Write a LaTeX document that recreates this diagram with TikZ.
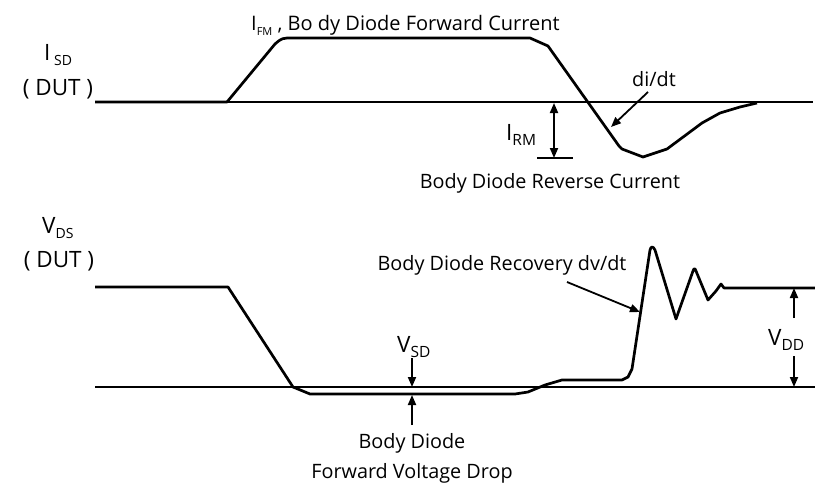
\documentclass[tikz,border=0pt]{standalone}
\usepackage{fontspec}
\setmainfont{Open Sans}
\usetikzlibrary{arrows.meta}
\newcommand{\fs}[1]{\fontsize{#1}{#1}\selectfont}
\newcommand{\lsub}[2]{\raisebox{-5pt}{\fs{#1}#2}}
\begin{document}
\begin{tikzpicture}[x=1pt,y=-1pt,
  wave/.style={line width=2.7pt,line join=round},
  axis/.style={line width=1.4pt},
  tip/.style={line width=1.8pt},
  arr/.style={line width=1.8pt,-{Triangle[length=10pt,width=8pt]}},
  txt/.style={font=\fs{19.8},inner sep=0pt},
  big/.style={font=\fs{22.5},inner sep=0pt}]
\useasboundingbox (0,0) rectangle (815,485);

% baselines
\draw[axis] (95,102) -- (813,102);
\draw[axis] (95,387) -- (815,387);

% top waveform (I_SD)
\draw[wave] (95,102) -- (227,102) -- (275,44) .. controls (282,38) .. (293,38)
  -- (530,38) -- (548,46) -- (619,146) -- (622,149) -- (643,157) -- (667,149)
  -- (702,123) -- (720,113) -- (740,107) -- (757,103);

% bottom waveform (V_DS)
\draw[wave] (95,287) -- (228,287) -- (293,387) -- (310,394) -- (515,394)
  -- (528,392) -- (545,385) -- (562,380) -- (622,380) -- (628,377) -- (632,369)
  -- (650,250) .. controls (651,246) and (653,246) .. (655,250) -- (676,319)
  -- (693,271) .. controls (694,268) and (695,268) .. (696,271) -- (708,300)
  -- (716,291) -- (721,284) -- (724,288) -- (815,288);

% left labels
\node[big,anchor=base west] (isd) at (44,60) {I\,\lsub{14}{SD}};
\node[big,anchor=base] (dut1) at (58,95) {( DUT )};
\node[big,anchor=base west] (vds) at (42,233) {V\lsub{14}{DS}};
\node[big,anchor=base] (dut2) at (59,267) {( DUT )};

% top labels
\node[txt,anchor=base west] (ifm) at (251,30) {\fs{20}I\lsub{11}{FM} , Bo dy Diode Forward Current};
\node[txt] (didt) at (654,79) {di/dt};
\coordinate (didtA) at (648,92);
\coordinate (didtB) at (611,127);
\draw[arr] (didtA) -- (didtB);

\node[big,anchor=base west] (irm) at (506,140) {I\lsub{15.5}{RM}};
\coordinate (irmT) at (554,103);
\coordinate (irmB) at (554,158);
\draw[tip,{Triangle[length=10pt,width=8pt]}-{Triangle[length=10pt,width=8pt]}] (irmT) -- (irmB);
\coordinate (tickL) at (537,158);
\coordinate (tickR) at (573,158);
\draw[tip] (tickL) -- (tickR);
\node[txt] (rev) at (550,183) {Body Diode Reverse Current};

% bottom labels
\node[txt] (rec) at (502,265) {Body Diode Recovery dv/dt};
\coordinate (recA) at (567,282);
\coordinate (recB) at (640,312);
\draw[arr] (recA) -- (recB);

\node[big,anchor=base west] (vsd) at (397,352) {V\lsub{15.5}{SD}};
\coordinate (vsdA) at (412,358);
\coordinate (vsdB) at (412,387);
\coordinate (vsdC) at (412,425);
\coordinate (vsdD) at (412,395);
\draw[arr] (vsdA) -- (vsdB);
\draw[arr] (vsdC) -- (vsdD);
\node[txt] (fwd1) at (412,443) {Body Diode};
\node[txt] (fwd2) at (412,473) {Forward Voltage Drop};

\node[big,anchor=base west] (vdd) at (768,345) {V\lsub{15.5}{DD}};
\coordinate (vddA) at (794,318);
\coordinate (vddB) at (794,288);
\coordinate (vddC) at (794,356);
\coordinate (vddD) at (794,387);
\draw[arr] (vddA) -- (vddB);
\draw[arr] (vddC) -- (vddD);
\end{tikzpicture}
\end{document}
